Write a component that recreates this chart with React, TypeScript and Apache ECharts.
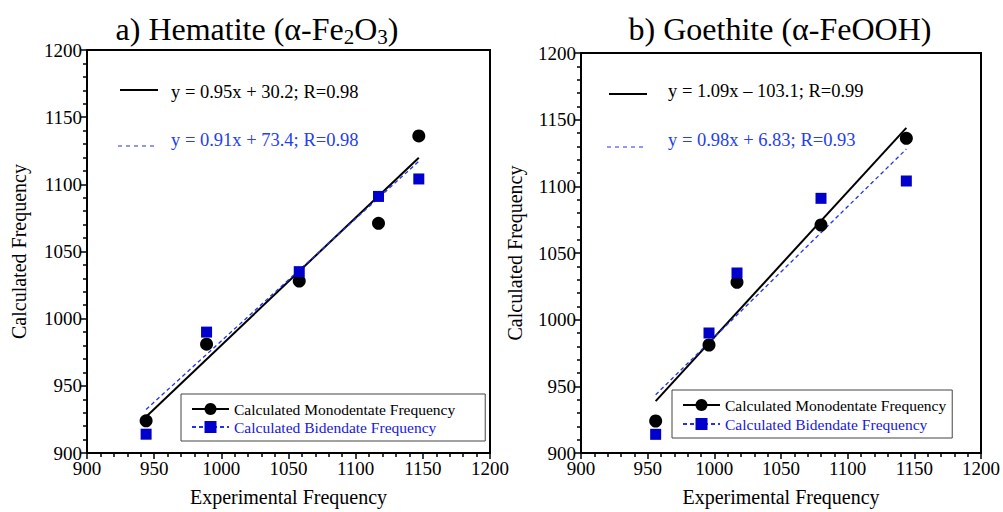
import React, { useEffect, useRef } from "react";
import * as echarts from "echarts";

// ---- data ----
const expHematite = [944, 989, 1058, 1117, 1147];
const expGoethite = [956, 996, 1017, 1080, 1144];
const monoCalc = [924, 981, 1028, 1071, 1136];
const biCalc = [914, 990, 1035, 1091, 1104];
const fitMonoA = [0.95, 30.2];
const fitBiA = [0.91, 73.4];
const fitMonoB = [1.09, -103.1];
const fitBiB = [0.98, 6.83];
const eqA = ["y = 0.95x + 30.2; R=0.98", "y = 0.91x + 73.4; R=0.98"];
const eqB = ["y = 1.09x \u2013 103.1; R=0.99", "y = 0.98x + 6.83; R=0.93"];
const axisMin = 900;
const axisMax = 1200;
const majorStep = 50;
const minorSplit = 5;
const monoName = "Calculated Monodentate Frequency";
const biName = "Calculated Bidendate Frequency";
const xTitle = "Experimental Frequency";
const yTitle = "Calculated Frequency";

const FONT = '"Liberation Serif", "Times New Roman", serif';
const BLUE = "#0000cc";
const BLUE_TXT = "#2440f0";
const BLUE_LEG = "#1818dd";

function fitLine(xs: number[], f: number[]) {
  const x0 = Math.min(...xs);
  const x1 = Math.max(...xs);
  return [
    [x0, f[0] * x0 + f[1]],
    [x1, f[0] * x1 + f[1]],
  ];
}

function pairs(xs: number[], ys: number[]) {
  return xs.map((x, i) => [x, ys[i]]);
}

function mainAxis(gridIndex: number, isX: boolean, gap: number) {
  return {
    type: "value",
    gridIndex,
    min: axisMin,
    max: axisMax,
    interval: majorStep,
    position: isX ? "bottom" : "left",
    name: isX ? xTitle : yTitle,
    nameLocation: "middle",
    nameGap: gap,
    nameTextStyle: { fontFamily: FONT, fontSize: 20, color: "#000" },
    axisLine: { show: true, onZero: false, lineStyle: { color: "#000", width: 2 } },
    axisTick: { show: true, inside: false, length: 6, lineStyle: { color: "#000", width: 1.5 } },
    minorTick: { show: true, splitNumber: minorSplit, length: 4, lineStyle: { color: "#000", width: 1.5 } },
    axisLabel: {
      show: true,
      fontFamily: FONT,
      fontSize: 19,
      color: "#000",
      margin: isX ? 6 : 5,
      formatter: (v: number) => String(v),
    },
    splitLine: { show: false },
    minorSplitLine: { show: false },
  };
}

function seriesFor(gi: number, xs: number[], fm: number[], fb: number[]) {
  return [
    {
      type: "line",
      name: monoName,
      xAxisIndex: gi,
      yAxisIndex: gi,
      data: fitLine(xs, fm),
      symbol: "circle",
      showSymbol: false,
      itemStyle: { color: "#000" },
      lineStyle: { color: "#000", width: 2 },
      z: 2,
    },
    {
      type: "line",
      name: biName,
      xAxisIndex: gi,
      yAxisIndex: gi,
      data: fitLine(xs, fb),
      symbol: "rect",
      showSymbol: false,
      itemStyle: { color: BLUE },
      lineStyle: { color: "#2233ee", width: 1.3, type: [4, 3] },
      z: 2,
    },
    {
      type: "scatter",
      name: "mono-points-" + gi,
      xAxisIndex: gi,
      yAxisIndex: gi,
      data: pairs(xs, monoCalc),
      symbol: "circle",
      symbolSize: 13,
      itemStyle: { color: "#000", opacity: 1 },
      z: 4,
    },
    {
      type: "scatter",
      name: "bi-points-" + gi,
      xAxisIndex: gi,
      yAxisIndex: gi,
      data: pairs(xs, biCalc),
      symbol: "rect",
      symbolSize: 11,
      itemStyle: { color: BLUE, opacity: 1 },
      z: 4,
    },
  ];
}

function legendAt(left: number, top: number, gap: number, padRight: number) {
  return {
    orient: "vertical",
    left,
    top,
    padding: [7, padRight, 6, 10],
    itemWidth: 37,
    itemHeight: 15,
    itemGap: gap,
    borderColor: "#444",
    borderWidth: 1,
    backgroundColor: "#fff",
    selectedMode: false,
    textStyle: { fontFamily: FONT, fontSize: 15.5, color: "#000", padding: [0, 0, 0, 0] },
    data: [
      { name: monoName },
      { name: biName, textStyle: { color: BLUE_LEG } },
    ],
  };
}

function equations(eq: string[], lx0: number, lx1: number, ly1: number, ly2: number, tx: number, ty1: number, ty2: number) {
  return [
    { type: "line", shape: { x1: lx0, y1: ly1, x2: lx1, y2: ly1 }, style: { stroke: "#000", lineWidth: 2 } },
    { type: "text", x: tx, y: ty1, style: { text: eq[0], fontFamily: FONT, fontSize: 18.5, fill: "#000", verticalAlign: "middle", align: "left" } },
    { type: "line", shape: { x1: lx0 - 2, y1: ly2, x2: lx1, y2: ly2 }, style: { stroke: "#2233ee", lineWidth: 1.2, lineDash: [4, 4] } },
    { type: "text", x: tx, y: ty2, style: { text: eq[1], fontFamily: FONT, fontSize: 18.5, fill: BLUE_TXT, verticalAlign: "middle", align: "left" } },
  ];
}

const titleRich = {
  n: { fontFamily: FONT, fontSize: 32, fontWeight: "normal", color: "#000", lineHeight: 36 },
  s: { fontFamily: FONT, fontSize: 21, fontWeight: "normal", color: "#000", lineHeight: 21, verticalAlign: "bottom" },
};

export default function App() {
  const ref = useRef<HTMLDivElement>(null);
  useEffect(() => {
    document.body.style.margin = "0";
    if (!ref.current) return;
    const chart = echarts.init(ref.current, null, { renderer: "svg" });
    const option: any = {
      animation: false,
      backgroundColor: "#fff",
      title: [
        {
          text: "{n|a) Hematite (\u03b1-Fe}{s|2}{n|O}{s|3}{n|)}",
          left: 252,
          top: 6,
          textAlign: "center",
          textStyle: { fontWeight: "normal", rich: titleRich },
        },
        {
          text: "{n|b) Goethite (\u03b1-FeOOH)}",
          left: 775,
          top: 6,
          textAlign: "center",
          textStyle: { fontWeight: "normal", rich: titleRich },
        },
      ],
      grid: [
        { left: 87, top: 50, width: 403, height: 405, show: true, borderColor: "#000", borderWidth: 2, backgroundColor: "transparent" },
        { left: 581, top: 53, width: 402, height: 403, show: true, borderColor: "#000", borderWidth: 2, backgroundColor: "transparent" },
      ],
      xAxis: [mainAxis(0, true, 34), mainAxis(1, true, 34)],
      yAxis: [mainAxis(0, false, 58), mainAxis(1, false, 56)],
      legend: [legendAt(181, 394, 2, 30), legendAt(672, 390, 3, 6)],
      series: [
        ...seriesFor(0, expHematite, fitMonoA, fitBiA),
        ...seriesFor(1, expGoethite, fitMonoB, fitBiB),
      ],
      graphic: [
        ...equations(eqA, 120, 158, 90, 146, 171, 92, 140),
        ...equations(eqB, 609, 647, 94, 147, 668, 91, 140),
      ],
    };
    chart.setOption(option);
    return () => chart.dispose();
  }, []);
  return <div ref={ref} style={{ width: 1003, height: 512 }} />;
}
